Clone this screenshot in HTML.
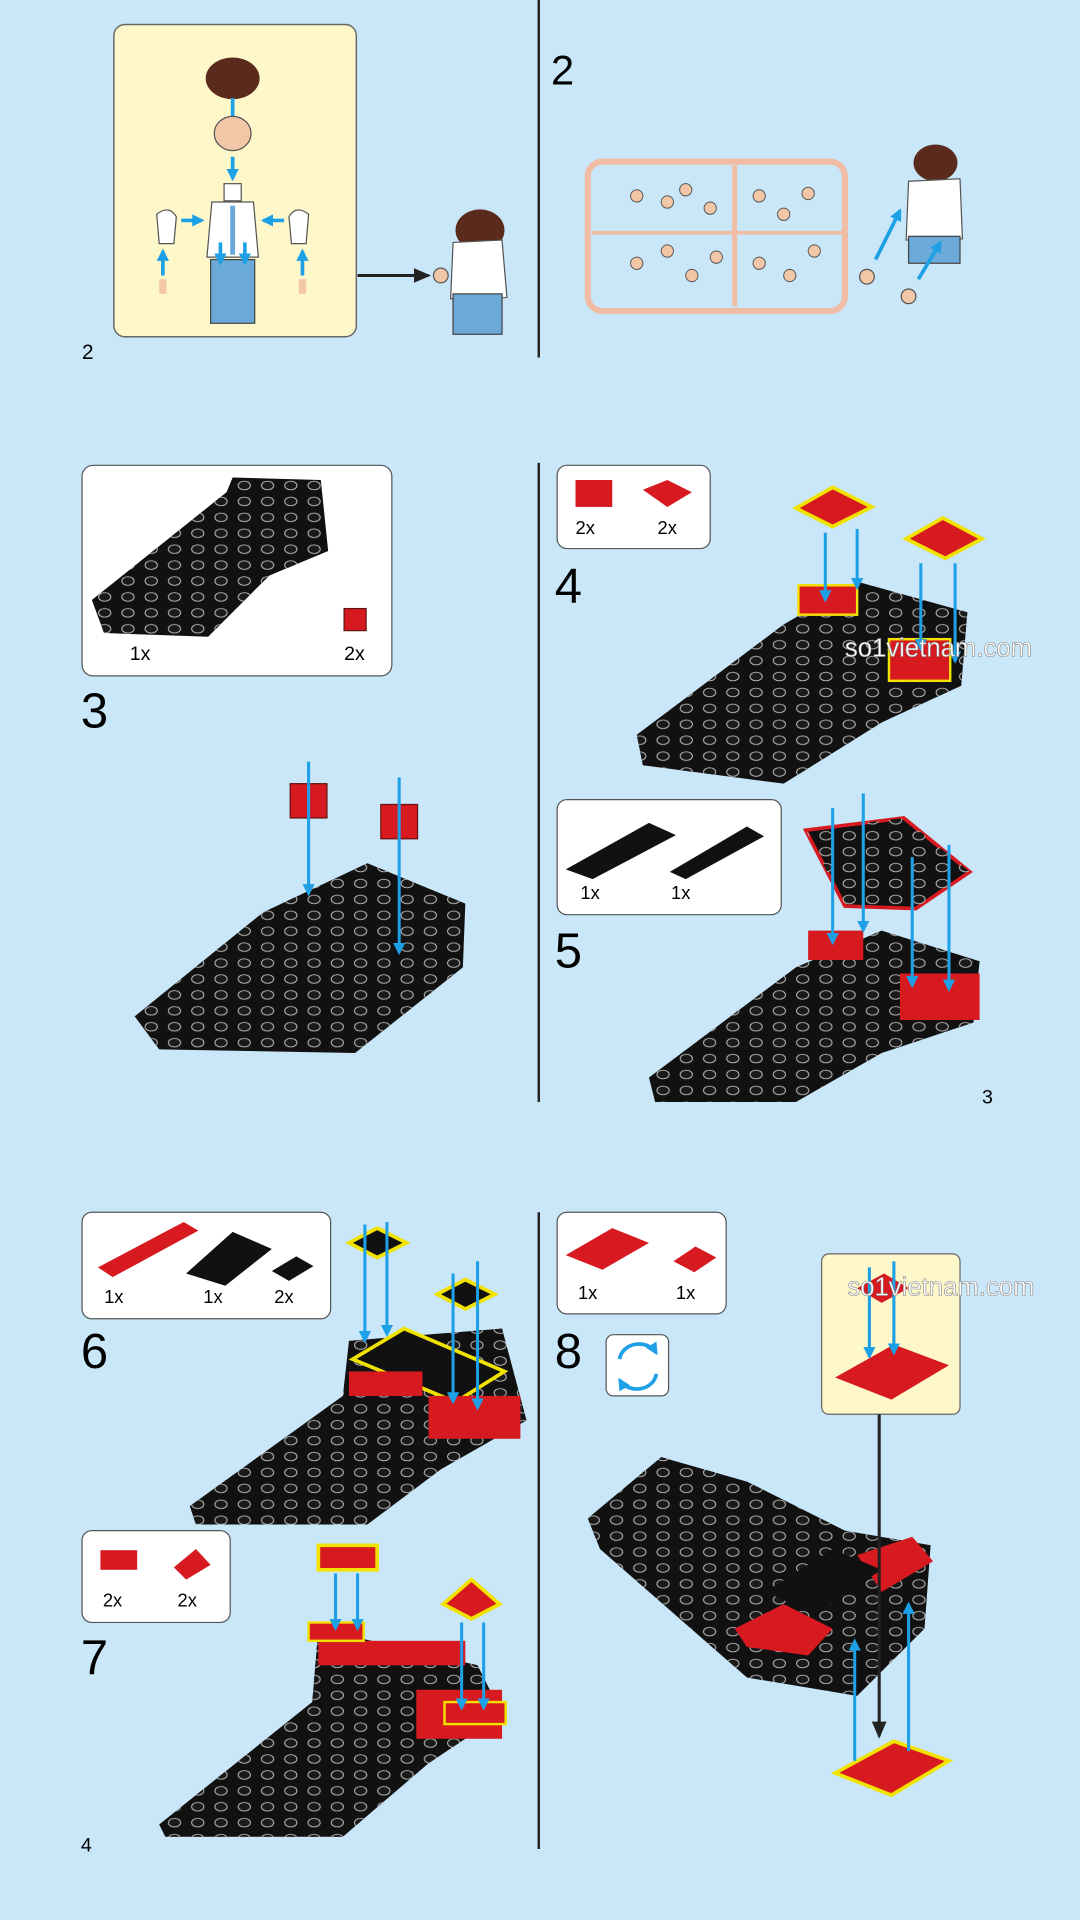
<!DOCTYPE html>
<html><head><meta charset="utf-8"><style>
html,body{margin:0;padding:0;background:#c9e7f8;}
svg{display:block}
text{font-family:"Liberation Sans",sans-serif;}
</style></head><body>
<svg width="1080" height="1920" viewBox="0 0 882 1568" xmlns="http://www.w3.org/2000/svg">
<defs>
<pattern id="st" width="19" height="13" patternUnits="userSpaceOnUse">
<ellipse cx="9.5" cy="6.5" rx="5" ry="3.5" fill="#1a1a1a" stroke="#bbb" stroke-width="0.8"/>
</pattern>
<marker id="ab" markerUnits="userSpaceOnUse" markerWidth="10" markerHeight="10" refX="8" refY="5" orient="auto"><path d="M0,0 L10,5 L0,10 Z" fill="#1ea0e6"/></marker>
<marker id="ak" markerUnits="userSpaceOnUse" markerWidth="14" markerHeight="12" refX="12" refY="6" orient="auto"><path d="M0,0 L14,6 L0,12 Z" fill="#222"/></marker>
</defs>
<rect width="882" height="1568" fill="#c9e7f8"/>
<g stroke="#222" stroke-width="2">
<line x1="440" y1="0" x2="440" y2="292"/>
<line x1="440" y1="378" x2="440" y2="900"/>
<line x1="440" y1="990" x2="440" y2="1510"/>
</g>
<!-- panel 1 -->
<rect x="93" y="20" width="198" height="255" rx="9" fill="#fdf7c9" stroke="#666" stroke-width="1.2"/>
<ellipse cx="190" cy="64" rx="22" ry="17" fill="#5a2a1c"/>
<line x1="190" y1="80" x2="190" y2="96" stroke="#1ea0e6" stroke-width="3"/>
<ellipse cx="190" cy="109" rx="15" ry="14" fill="#f2c7a8" stroke="#555"/>
<line x1="190" y1="128" x2="190" y2="146" stroke="#1ea0e6" stroke-width="3" marker-end="url(#ab)"/>
<rect x="183" y="150" width="14" height="14" fill="#fff" stroke="#555"/>
<path d="M173 165 L207 165 L211 210 L169 210 Z" fill="#fff" stroke="#555"/>
<rect x="188" y="168" width="4" height="40" fill="#6aa9d8"/>
<rect x="172" y="212" width="36" height="52" fill="#6aa9d8" stroke="#444"/>
<path d="M128 175 q10 -8 16 2 l-2 22 h-12 Z" fill="#fff" stroke="#555"/>
<path d="M252 175 q-10 -8 -16 2 l2 22 h12 Z" fill="#fff" stroke="#555"/>
<g stroke="#1ea0e6" stroke-width="3" marker-end="url(#ab)" fill="none">
<line x1="148" y1="180" x2="165" y2="180"/><line x1="232" y1="180" x2="215" y2="180"/>
<line x1="180" y1="198" x2="180" y2="215"/><line x1="200" y1="198" x2="200" y2="215"/>
<line x1="133" y1="225" x2="133" y2="205"/><line x1="247" y1="225" x2="247" y2="205"/>
</g>
<rect x="130" y="228" width="6" height="12" fill="#f2c7a8"/><rect x="244" y="228" width="6" height="12" fill="#f2c7a8"/>
<line x1="292" y1="225" x2="350" y2="225" stroke="#222" stroke-width="2.5" marker-end="url(#ak)"/>
<ellipse cx="392" cy="188" rx="20" ry="17" fill="#5a2a1c"/>
<path d="M370 198 L410 196 L414 243 L368 244 Z" fill="#fff" stroke="#555"/>
<rect x="370" y="240" width="40" height="33" fill="#6aa9d8" stroke="#444"/>
<circle cx="360" cy="225" r="6" fill="#f2c7a8" stroke="#555"/>
<text x="67" y="293" font-size="17">2</text>
<!-- panel 2 -->
<text x="450" y="69" font-size="34">2</text>
<rect x="480" y="132" width="210" height="122" rx="12" fill="none" stroke="#f0bca4" stroke-width="5"/>
<line x1="600" y1="135" x2="600" y2="250" stroke="#f0bca4" stroke-width="4"/>
<line x1="483" y1="190" x2="688" y2="190" stroke="#f0bca4" stroke-width="3"/>
<g fill="#f2c7a8" stroke="#555" stroke-width="0.8">
<circle cx="520" cy="160" r="5"/><circle cx="545" cy="165" r="5"/><circle cx="560" cy="155" r="5"/><circle cx="580" cy="170" r="5"/>
<circle cx="520" cy="215" r="5"/><circle cx="545" cy="205" r="5"/><circle cx="565" cy="225" r="5"/><circle cx="585" cy="210" r="5"/>
<circle cx="620" cy="160" r="5"/><circle cx="640" cy="175" r="5"/><circle cx="660" cy="158" r="5"/><circle cx="620" cy="215" r="5"/><circle cx="645" cy="225" r="5"/><circle cx="665" cy="205" r="5"/>
</g>
<ellipse cx="764" cy="133" rx="18" ry="15" fill="#5a2a1c"/>
<path d="M742 148 L784 146 L786 195 L740 196 Z" fill="#fff" stroke="#555"/>
<rect x="742" y="193" width="42" height="22" fill="#6aa9d8" stroke="#444"/>
<g stroke="#1ea0e6" stroke-width="3" marker-end="url(#ab)"><line x1="715" y1="212" x2="735" y2="172"/><line x1="750" y1="228" x2="768" y2="198"/></g>
<circle cx="708" cy="226" r="6" fill="#f2c7a8" stroke="#555"/><circle cx="742" cy="242" r="6" fill="#f2c7a8" stroke="#555"/>
<!-- step 3 -->
<rect x="67" y="380" width="253" height="172" rx="9" fill="#fff" stroke="#555"/>
<polygon points="75,490 185,402 190,390 262,392 268,450 220,470 170,520 85,517" fill="#111"/>
<polygon points="75,490 185,402 190,390 262,392 268,450 220,470 170,520 85,517" fill="url(#st)"/>
<rect x="281" y="497" width="18" height="18" fill="#d71920" stroke="#611"/>
<text x="106" y="539" font-size="16">1x</text><text x="281" y="539" font-size="16">2x</text>
<text x="66" y="594" font-size="40">3</text>
<polygon points="110,830 215,745 300,705 380,738 378,790 290,860 130,857" fill="#111"/>
<polygon points="110,830 215,745 300,705 380,738 378,790 290,860 130,857" fill="url(#st)"/>
<rect x="237" y="640" width="30" height="28" fill="#d71920" stroke="#611"/>
<rect x="311" y="657" width="30" height="28" fill="#d71920" stroke="#611"/>
<g stroke="#1ea0e6" stroke-width="2.5" marker-end="url(#ab)"><line x1="252" y1="622" x2="252" y2="730"/><line x1="326" y1="635" x2="326" y2="778"/></g>
<!-- step 4 -->
<rect x="455" y="380" width="125" height="68" rx="8" fill="#fff" stroke="#555"/>
<rect x="470" y="392" width="30" height="22" fill="#d71920"/><polygon points="525,400 545,392 565,402 545,414" fill="#d71920"/>
<text x="470" y="436" font-size="15">2x</text><text x="537" y="436" font-size="15">2x</text>
<text x="453" y="492" font-size="40">4</text>
<polygon points="520,600 640,510 700,475 790,500 785,560 720,590 640,640 525,625" fill="#111"/>
<polygon points="520,600 640,510 700,475 790,500 785,560 720,590 640,640 525,625" fill="url(#st)"/>
<polygon points="650,415 680,398 712,414 680,430" fill="#d71920" stroke="#f2e200" stroke-width="3"/>
<polygon points="740,440 770,423 802,440 772,456" fill="#d71920" stroke="#f2e200" stroke-width="3"/>
<rect x="652" y="478" width="48" height="24" fill="#d71920" stroke="#f2e200" stroke-width="2"/>
<rect x="726" y="522" width="50" height="34" fill="#d71920" stroke="#f2e200" stroke-width="2"/>
<g stroke="#1ea0e6" stroke-width="2.5" marker-end="url(#ab)"><line x1="674" y1="435" x2="674" y2="490"/><line x1="700" y1="432" x2="700" y2="480"/><line x1="752" y1="460" x2="752" y2="530"/><line x1="780" y1="460" x2="780" y2="540"/></g>
<!-- step 5 -->
<rect x="455" y="653" width="183" height="94" rx="8" fill="#fff" stroke="#555"/>
<polygon points="462,710 530,672 552,682 484,718" fill="#111"/><polygon points="547,712 610,675 624,683 560,718" fill="#111"/>
<text x="474" y="734" font-size="15">1x</text><text x="548" y="734" font-size="15">1x</text>
<text x="453" y="790" font-size="40">5</text>
<polygon points="530,880 650,790 720,760 800,785 795,835 720,860 650,900 535,900" fill="#111"/>
<polygon points="530,880 650,790 720,760 800,785 795,835 720,860 650,900 535,900" fill="url(#st)"/>
<polygon points="658,678 738,668 792,712 748,742 690,740" fill="#111" stroke="#d71920" stroke-width="3"/>
<polygon points="658,678 738,668 792,712 748,742 690,740" fill="url(#st)"/>
<rect x="660" y="760" width="45" height="24" fill="#d71920"/><rect x="735" y="795" width="65" height="38" fill="#d71920"/>
<g stroke="#1ea0e6" stroke-width="2.5" marker-end="url(#ab)"><line x1="680" y1="660" x2="680" y2="770"/><line x1="705" y1="648" x2="705" y2="760"/><line x1="745" y1="700" x2="745" y2="805"/><line x1="775" y1="690" x2="775" y2="808"/></g>
<text x="802" y="901" font-size="16">3</text>
<!-- step 6 -->
<rect x="67" y="990" width="203" height="87" rx="8" fill="#fff" stroke="#555"/>
<polygon points="80,1035 150,998 162,1005 92,1043" fill="#d71920"/><polygon points="152,1040 190,1006 222,1020 184,1050" fill="#111"/><polygon points="222,1038 242,1026 256,1034 236,1046" fill="#111"/>
<text x="85" y="1064" font-size="15">1x</text><text x="166" y="1064" font-size="15">1x</text><text x="224" y="1064" font-size="15">2x</text>
<text x="66" y="1117" font-size="40">6</text>
<polygon points="155,1230 280,1140 285,1095 410,1085 430,1160 360,1200 300,1245 160,1245" fill="#111"/>
<polygon points="155,1230 280,1140 285,1095 410,1085 430,1160 360,1200 300,1245 160,1245" fill="url(#st)"/>
<polygon points="288,1110 330,1085 412,1120 372,1145" fill="#111" stroke="#f2e200" stroke-width="3"/>
<rect x="285" y="1120" width="60" height="20" fill="#d71920"/><rect x="350" y="1140" width="75" height="35" fill="#d71920"/>
<polygon points="285,1015 308,1003 332,1015 308,1027" fill="#111" stroke="#f2e200" stroke-width="3"/>
<polygon points="357,1057 380,1045 404,1057 380,1069" fill="#111" stroke="#f2e200" stroke-width="3"/>
<g stroke="#1ea0e6" stroke-width="2.5" marker-end="url(#ab)"><line x1="298" y1="1000" x2="298" y2="1095"/><line x1="316" y1="998" x2="316" y2="1090"/><line x1="370" y1="1040" x2="370" y2="1145"/><line x1="390" y1="1030" x2="390" y2="1150"/></g>
<!-- step 7 -->
<rect x="67" y="1250" width="121" height="75" rx="8" fill="#fff" stroke="#555"/>
<rect x="82" y="1266" width="30" height="16" fill="#d71920"/><polygon points="142,1280 160,1265 172,1278 152,1290" fill="#d71920"/>
<text x="84" y="1312" font-size="15">2x</text><text x="145" y="1312" font-size="15">2x</text>
<text x="66" y="1367" font-size="40">7</text>
<polygon points="130,1490 255,1390 260,1330 390,1360 410,1400 350,1440 280,1500 135,1500" fill="#111"/>
<polygon points="130,1490 255,1390 260,1330 390,1360 410,1400 350,1440 280,1500 135,1500" fill="url(#st)"/>
<rect x="260" y="1340" width="120" height="20" fill="#d71920"/><rect x="340" y="1380" width="70" height="40" fill="#d71920"/>
<rect x="260" y="1262" width="48" height="20" fill="#d71920" stroke="#f2e200" stroke-width="3"/>
<polygon points="362,1310 385,1290 408,1310 385,1322" fill="#d71920" stroke="#f2e200" stroke-width="3"/>
<rect x="252" y="1325" width="45" height="15" fill="#d71920" stroke="#f2e200" stroke-width="2"/>
<rect x="363" y="1390" width="50" height="18" fill="#d71920" stroke="#f2e200" stroke-width="2"/>
<g stroke="#1ea0e6" stroke-width="2.5" marker-end="url(#ab)"><line x1="274" y1="1285" x2="274" y2="1330"/><line x1="292" y1="1285" x2="292" y2="1330"/><line x1="377" y1="1325" x2="377" y2="1395"/><line x1="395" y1="1325" x2="395" y2="1395"/></g>
<text x="66" y="1512" font-size="16">4</text>
<!-- step 8 -->
<rect x="455" y="990" width="138" height="83" rx="8" fill="#fff" stroke="#555"/>
<polygon points="462,1025 500,1003 530,1015 492,1037" fill="#d71920"/><polygon points="550,1030 568,1018 585,1027 567,1039" fill="#d71920"/>
<text x="472" y="1061" font-size="15">1x</text><text x="552" y="1061" font-size="15">1x</text>
<text x="453" y="1117" font-size="40">8</text>
<rect x="495" y="1090" width="51" height="50" rx="6" fill="#fff" stroke="#555"/>
<path d="M506 1110 a16 14 0 0 1 30 -5" fill="none" stroke="#1ea0e6" stroke-width="3" marker-end="url(#ab)"/>
<path d="M536 1122 a16 14 0 0 1 -30 5" fill="none" stroke="#1ea0e6" stroke-width="3" marker-end="url(#ab)"/>
<rect x="671" y="1024" width="113" height="131" rx="6" fill="#fdf7c9" stroke="#666"/>
<polygon points="700,1052 722,1040 742,1052 720,1064" fill="#d71920"/>
<polygon points="682,1125 730,1098 775,1115 728,1143" fill="#d71920"/>
<g stroke="#1ea0e6" stroke-width="2.5" marker-end="url(#ab)"><line x1="710" y1="1035" x2="710" y2="1108"/><line x1="730" y1="1030" x2="730" y2="1105"/></g>
<polygon points="480,1240 540,1190 610,1210 690,1250 760,1262 755,1330 700,1385 610,1370 490,1265" fill="#111"/>
<polygon points="480,1240 540,1190 610,1210 690,1250 760,1262 755,1330 700,1385 610,1370 490,1265" fill="url(#st)"/>
<polygon points="600,1330 640,1310 680,1330 660,1352 610,1345" fill="#d71920"/>
<polygon points="700,1270 745,1255 762,1275 720,1300" fill="#d71920"/>
<polygon points="625,1300 680,1265 720,1282 665,1318" fill="#111"/>
<line x1="718" y1="1155" x2="718" y2="1418" stroke="#222" stroke-width="2.5" marker-end="url(#ak)"/>
<polygon points="682,1448 730,1422 775,1438 728,1466" fill="#d71920" stroke="#f2e200" stroke-width="3"/>
<g stroke="#1ea0e6" stroke-width="2.5" marker-end="url(#ab)"><line x1="698" y1="1438" x2="698" y2="1340"/><line x1="742" y1="1430" x2="742" y2="1310"/></g>
<!-- watermarks -->
<text x="690" y="536" font-size="21" fill="#fff" stroke="#888" stroke-width="0.5">so1vietnam.com</text>
<text x="692" y="1058" font-size="21" fill="#fff" stroke="#888" stroke-width="0.5">so1vietnam.com</text>
</svg>
</body></html>
